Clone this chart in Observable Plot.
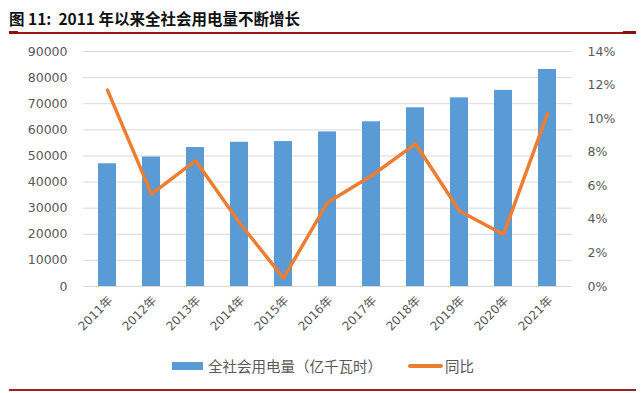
<!DOCTYPE html>
<html><head><meta charset="utf-8">
<script src="https://cdn.jsdelivr.net/npm/d3@7"></script>
<script src="https://cdn.jsdelivr.net/npm/@observablehq/plot@0.6"></script>
<style>
body{margin:0;background:#fff;}
#wrap{position:relative;width:641px;height:393px;overflow:hidden;background:#fff;font-family:"Noto Sans CJK SC","DejaVu Sans",sans-serif;}
#chart{position:absolute;left:0;top:0;}
.title{position:absolute;left:9px;top:7px;font-size:15.5px;font-weight:bold;color:#111;white-space:nowrap;line-height:22px;}
.rule{position:absolute;background:#a01414;}
.legend{position:absolute;top:356px;left:0;height:20px;font-size:14.5px;color:#595959;line-height:20px;white-space:nowrap;}
.sw{position:absolute;}
</style></head><body>
<div id="wrap">
  <div id="chart"></div>
  <div class="title">图 11:&nbsp; 2011 年以来全社会用电量不断增长</div>
  <div class="rule" style="left:9px;top:32px;width:627px;height:2px;"></div>
  <div class="rule" style="left:9px;top:31px;width:9px;height:3px;background:#8a0f0f"></div>
  <div class="rule" style="left:623px;top:31px;width:13px;height:3px;background:#8a0f0f"></div>
  <div class="rule" style="left:9px;top:389px;width:627px;height:2px;background:#9b2020"></div>
  <div class="legend" id="legend">
    <div class="sw" style="left:172px;top:6px;width:31px;height:8px;background:#5B9BD5"></div>
    <div style="position:absolute;left:208px;top:0;">全社会用电量（亿千瓦时）</div>
    <div class="sw" style="left:408px;top:8px;width:35px;height:4px;border-radius:2px;background:#ED7D31"></div>
    <div style="position:absolute;left:445px;top:0;">同比</div>
  </div>
</div>
<script>
const years = ["2011年","2012年","2013年","2014年","2015年","2016年","2017年","2018年","2019年","2020年","2021年"];
const consumption = [47001, 49591, 53223, 55233, 55500, 59198, 63077, 68449, 72255, 75110, 83128];
const growth = [11.7, 5.5, 7.5, 3.8, 0.5, 5.0, 6.6, 8.5, 4.5, 3.1, 10.3];
const leftTicks = [0, 10000, 20000, 30000, 40000, 50000, 60000, 70000, 80000, 90000];
const rightTicks = [0, 2, 4, 6, 8, 10, 12, 14];

const leftMax = 90000, rightMax = 14;
const toLeft = v => v * leftMax / rightMax;
const data = years.map((y, i) => ({year: y, value: consumption[i], growth: growth[i]}));

const chart = Plot.plot({
  width: 641,
  height: 345,
  marginTop: 51,
  marginBottom: 59,
  marginLeft: 83,
  marginRight: 69,
  style: {fontFamily: "'DejaVu Sans','Noto Sans CJK SC',sans-serif", fontSize: "12.5px", color: "#595959", background: "transparent"},
  x: {domain: years, paddingInner: 0.59, paddingOuter: 0.295},
  y: {domain: [0, leftMax]},
  marks: [
    Plot.ruleY(leftTicks, {stroke: "#d9d9d9", strokeWidth: 1}),
    Plot.axisY(leftTicks, {tickSize: 0, tickPadding: 16, label: null, tickFormat: d => String(d)}),
    Plot.axisX({tickRotate: -45, tickSize: 0, tickPadding: 12, dx: 3, label: null, fontSize: 12}),
    Plot.barY(data, {x: "year", y: "value", fill: "#5B9BD5"}),
    Plot.line(data, {x: "year", y: d => toLeft(d.growth), stroke: "#ED7D31", strokeWidth: 3.5, strokeLinejoin: "round", strokeLinecap: "round"}),
    Plot.text(rightTicks, {y: d => toLeft(d), text: d => d + "%", frameAnchor: "right", textAnchor: "start", dx: 15, fill: "#595959"})
  ]
});
document.getElementById("chart").appendChild(chart);
</script>
</body></html>
